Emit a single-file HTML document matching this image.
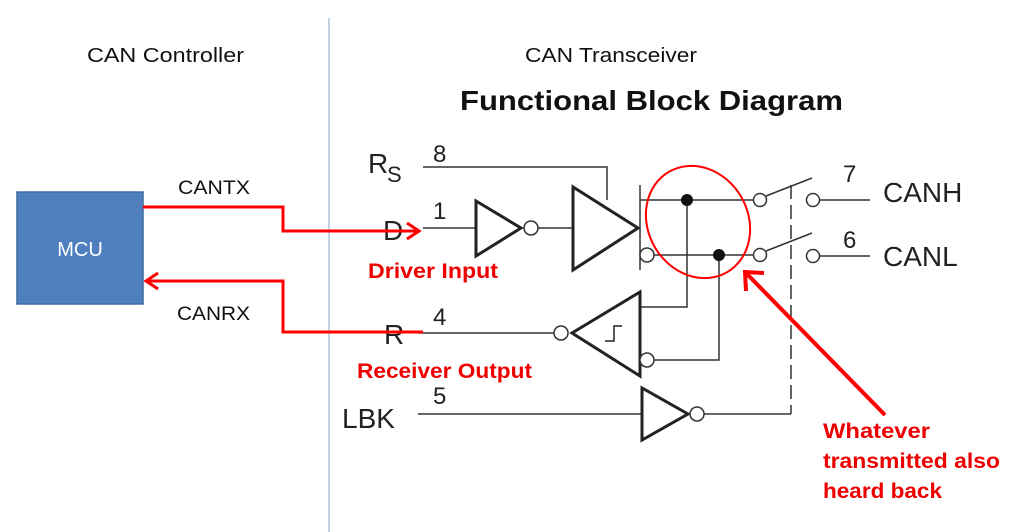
<!DOCTYPE html>
<html><head><meta charset="utf-8"><style>
body{margin:0;background:#fff}
svg{display:block}
text{font-family:"Liberation Sans",sans-serif}
</style></head><body>
<svg width="1024" height="532" viewBox="0 0 1024 532">
<rect width="1024" height="532" fill="#fff"/>
<line x1="329" y1="18" x2="329" y2="532" stroke="#9fb4cf" stroke-width="1.2"/>
<text x="87" y="62" font-size="20" textLength="157" lengthAdjust="spacingAndGlyphs" fill="#111">CAN Controller</text>
<text x="525" y="62" font-size="20" textLength="172" lengthAdjust="spacingAndGlyphs" fill="#111">CAN Transceiver</text>
<text x="460" y="110" font-size="28" font-weight="bold" textLength="383" lengthAdjust="spacingAndGlyphs" fill="#111">Functional Block Diagram</text>
<rect x="17" y="192" width="126" height="112" fill="#4f7fbf" stroke="#3d6aa3" stroke-width="1.5"/>
<text x="80" y="256" font-size="20" text-anchor="middle" fill="#fff">MCU</text>
<text x="178" y="194" font-size="19" textLength="72" lengthAdjust="spacingAndGlyphs" fill="#111">CANTX</text>
<text x="177" y="320" font-size="19" textLength="73" lengthAdjust="spacingAndGlyphs" fill="#111">CANRX</text>
<g fill="#222" font-size="24">
<text x="368" y="173" font-size="28">R</text><text x="387" y="182" font-size="22">S</text>
<text x="383" y="240" font-size="28">D</text>
<text x="384" y="344" font-size="28">R</text>
<text x="342" y="428" font-size="28">LBK</text>
<text x="433" y="162">8</text><text x="433" y="219">1</text><text x="433" y="325">4</text><text x="433" y="404">5</text>
<text x="843" y="182">7</text><text x="843" y="248">6</text>
<text x="883" y="202" font-size="28">CANH</text>
<text x="883" y="266" font-size="28">CANL</text>
</g>
<g stroke="#333" stroke-width="1.5" fill="none">
<polyline points="423,167 607,167 607,200"/>
<line x1="423" y1="228" x2="475" y2="228"/>
<line x1="538" y1="228" x2="572" y2="228"/>
<line x1="640" y1="185" x2="640" y2="270"/>
<line x1="640" y1="200" x2="753" y2="200"/>
<line x1="654" y1="255" x2="753" y2="255"/>
<polyline points="687,200 687,307 640,307"/>
<polyline points="719,255 719,360 654,360"/>
<line x1="418" y1="333" x2="554" y2="333"/>
<line x1="418" y1="414" x2="641" y2="414"/>
<line x1="704" y1="414" x2="791" y2="414"/>
<line x1="791" y1="185" x2="791" y2="414" stroke-dasharray="14,6"/>
<line x1="766" y1="196" x2="812" y2="178"/>
<line x1="766" y1="251" x2="812" y2="233"/>
<line x1="820" y1="200" x2="870" y2="200"/>
<line x1="820" y1="256" x2="870" y2="256"/>
<circle cx="760" cy="200" r="6.5" fill="#fff"/><circle cx="760" cy="255" r="6.5" fill="#fff"/>
<circle cx="813" cy="200" r="6.5" fill="#fff"/><circle cx="813" cy="256" r="6.5" fill="#fff"/>
</g>
<g stroke="#222" stroke-width="3" fill="#fff">
<polygon points="476,201 476,256 521,228"/>
<polygon points="573,187 573,270 638,228"/>
<polygon points="640,292 640,376 572,333"/>
<polygon points="642,388 642,440 688,414"/>
</g>
<g stroke="#333" stroke-width="1.5" fill="#fff">
<circle cx="531" cy="228" r="7"/><circle cx="647" cy="255" r="7"/>
<circle cx="561" cy="333" r="7"/><circle cx="647" cy="360" r="7"/><circle cx="697" cy="414" r="7"/>
</g>
<polyline points="605,341 614,341 614,326 622,326" stroke="#222" stroke-width="1.5" fill="none"/>
<circle cx="687" cy="200" r="6" fill="#111"/><circle cx="719" cy="255" r="6" fill="#111"/>
<g stroke="#f00" stroke-width="3" fill="none">
<polyline points="143,207 283,207 283,231 420,231"/>
<polyline points="407,223 419,231 407,239"/>
<polyline points="423,332 283,332 283,281 146,281"/>
<polyline points="158,273 146,281 158,289"/>
<ellipse cx="698" cy="222" rx="58" ry="50" transform="rotate(60 698 222)" stroke-width="2"/>
<line x1="885" y1="415" x2="746" y2="273" stroke-width="4"/>
<polyline points="746,291 745,272 764,273" stroke-width="4"/>
</g>
<g fill="#e00" font-weight="bold" font-size="21">
<text x="368" y="278" textLength="130" lengthAdjust="spacingAndGlyphs">Driver Input</text>
<text x="357" y="378" textLength="175" lengthAdjust="spacingAndGlyphs">Receiver Output</text>
<text x="823" y="438" textLength="107" lengthAdjust="spacingAndGlyphs">Whatever</text>
<text x="823" y="468" textLength="177" lengthAdjust="spacingAndGlyphs">transmitted also</text>
<text x="823" y="498" textLength="119" lengthAdjust="spacingAndGlyphs">heard back</text>
</g>
</svg>
</body></html>
